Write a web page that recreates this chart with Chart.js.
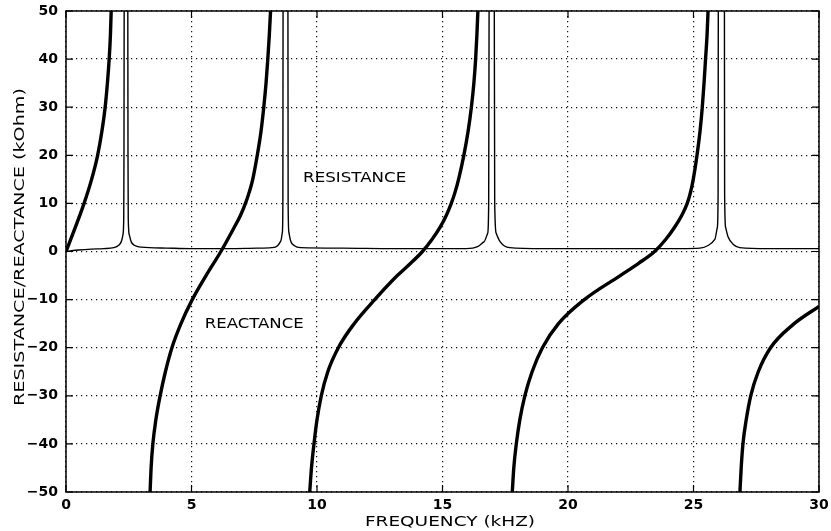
<!DOCTYPE html>
<html>
<head>
<meta charset="utf-8">
<script src="https://cdn.jsdelivr.net/npm/chart.js@4/dist/chart.umd.min.js"></script>
<style>
  html, body { margin: 0; padding: 0; background: #fff; }
  canvas { display: block; }
</style>
</head>
<body>
<canvas id="impChart" width="831" height="531"></canvas>
<script>
// Reactance (kOhm) vs frequency (kHz), one branch per pole interval
const reactFreq1 = [0, 0.37, 0.72, 1.02, 1.26, 1.43, 1.56, 1.65, 1.72, 1.77, 1.8];
const reactVal1  = [0, 5, 10, 15, 20, 25, 30, 35, 40, 45, 50];

const reactFreq2 = [3.35, 3.39, 3.46, 3.58, 3.75, 3.96, 4.22, 4.58, 5.03, 5.58, 6.17, 6.7, 6.95, 7.15, 7.31, 7.44, 7.62, 7.77, 7.88, 7.97, 8.04, 8.1, 8.15];
const reactVal2  = [-50, -45, -40, -35, -30, -25, -20, -15, -10, -5, 0, 5, 7.5, 10, 12.5, 15, 20, 25, 30, 35, 40, 45, 50];

const reactFreq3 = [9.71, 9.78, 9.88, 10.0, 10.17, 10.43, 10.85, 11.48, 12.3, 13.2, 13.72, 14.2, 14.58, 14.9, 15.15, 15.35, 15.51, 15.64, 15.85, 16.02, 16.15, 16.25, 16.32, 16.37, 16.41];
const reactVal3  = [-50, -45, -40, -35, -30, -25, -20, -15, -10, -5, -2.5, 0, 2.5, 5, 7.5, 10, 12.5, 15, 20, 25, 30, 35, 40, 45, 50];

const reactFreq4 = [17.78, 17.84, 17.94, 18.08, 18.28, 18.57, 18.98, 19.62, 20.65, 22.08, 22.8, 23.45, 23.89, 24.24, 24.53, 24.75, 24.89, 24.99, 25.14, 25.26, 25.35, 25.42, 25.48, 25.54, 25.58];
const reactVal4  = [-50, -45, -40, -35, -30, -25, -20, -15, -10, -5, -2.5, 0, 2.5, 5, 7.5, 10, 12.5, 15, 20, 25, 30, 35, 40, 45, 50];

const reactFreq5 = [26.85, 26.9, 26.97, 27.1, 27.28, 27.58, 28.07, 28.94, 30];
const reactVal5  = [-50, -45, -40, -35, -30, -25, -20, -15.3, -11.4];

// Resistance (kOhm): flat floor with four narrow resonance spikes (tops run off the plot)
const resFreq = [
  0, 0.5, 1.0, 1.5, 1.9, 2.1, 2.2, 2.27, 2.30, 2.31, 2.32, 2.39, 2.46, 2.47, 2.48, 2.52, 2.6, 2.72, 3.0,
  4, 5, 6.5, 7.6, 8.2, 8.43, 8.56, 8.62, 8.64, 8.65, 8.75, 8.84, 8.85, 8.88, 8.95, 9.1, 9.35,
  11, 13, 15, 15.94, 16.4, 16.65, 16.8, 16.84, 16.86, 16.96, 17.06, 17.08, 17.14, 17.3, 17.67,
  19, 21, 23, 24.5, 25.25, 25.6, 25.85, 25.95, 25.98, 25.99, 26.11, 26.23, 26.24, 26.28, 26.38, 26.6, 26.84,
  28, 30
];
const resVal = [
  0, 0.3, 0.5, 0.6, 0.8, 1.3, 2, 3.5, 7, 20, 60, 100, 60, 20, 7, 3.5, 2, 1.3, 0.9,
  0.7, 0.6, 0.6, 0.7, 0.8, 1.2, 2.2, 4, 10, 60, 100, 60, 10, 4, 2.2, 1.2, 0.8,
  0.7, 0.6, 0.6, 0.6, 1, 2, 3.8, 10, 60, 100, 60, 10, 3.8, 2, 0.8,
  0.6, 0.6, 0.6, 0.6, 0.7, 1.3, 2.5, 5, 12, 60, 100, 60, 12, 5, 3, 1.4, 0.8,
  0.6, 0.6
];

const xTicks = [0, 5, 10, 15, 20, 25, 30];
const yTicks = [-50, -40, -30, -20, -10, 0, 10, 20, 30, 40, 50];

function toPoints(xs, ys) {
  return xs.map((x, i) => ({ x: x, y: ys[i] }));
}

function reactanceSet(xs, ys) {
  return {
    data: toPoints(xs, ys),
    borderColor: '#000',
    borderWidth: 3.4,
    pointRadius: 0,
    cubicInterpolationMode: 'monotone',
    fill: false
  };
}

// draws text stretched along its baseline, the scanned lettering is wide
function stretchedText(ctx, text, x, y, font, sx, angle) {
  ctx.save();
  ctx.translate(x, y);
  if (angle) ctx.rotate(angle);
  ctx.scale(sx, 1);
  ctx.font = font;
  ctx.fillStyle = '#000';
  ctx.textAlign = 'center';
  ctx.textBaseline = 'middle';
  ctx.fillText(text, 0, 0);
  ctx.restore();
}

const framePlugin = {
  id: 'frame',
  afterDatasetsDraw(chart) {
    const { ctx, chartArea: a, scales } = chart;
    ctx.save();
    ctx.strokeStyle = '#000';
    ctx.lineWidth = 1.5;
    ctx.strokeRect(a.left, a.top, a.right - a.left, a.bottom - a.top);
    // short inward ticks on all four sides
    ctx.lineWidth = 1.2;
    const len = 7;
    ctx.beginPath();
    xTicks.forEach(v => {
      const px = scales.x.getPixelForValue(v);
      ctx.moveTo(px, a.bottom); ctx.lineTo(px, a.bottom - len);
      ctx.moveTo(px, a.top); ctx.lineTo(px, a.top + len);
    });
    yTicks.forEach(v => {
      const py = scales.y.getPixelForValue(v);
      ctx.moveTo(a.left, py); ctx.lineTo(a.left + len, py);
      ctx.moveTo(a.right, py); ctx.lineTo(a.right - len, py);
    });
    ctx.stroke();
    ctx.restore();
  },
  afterDraw(chart) {
    const { ctx, scales } = chart;
    const f = '14px "DejaVu Sans"';
    stretchedText(ctx, 'RESISTANCE', scales.x.getPixelForValue(11.5), scales.y.getPixelForValue(15.3), f, 1.19, 0);
    stretchedText(ctx, 'REACTANCE', scales.x.getPixelForValue(7.5), scales.y.getPixelForValue(-15.1), f, 1.18, 0);
    stretchedText(ctx, 'FREQUENCY (kHZ)', 450, 522, f, 1.32, 0);
    stretchedText(ctx, 'RESISTANCE/REACTANCE (kOhm)', 20, 247, f, 1.37, -Math.PI / 2);
  }
};

const ctx = document.getElementById('impChart').getContext('2d');

new Chart(ctx, {
  type: 'line',
  data: {
    datasets: [
      {
        data: toPoints(resFreq, resVal),
        borderColor: '#000',
        borderWidth: 1.4,
        pointRadius: 0,
        cubicInterpolationMode: 'monotone',
        fill: false
      },
      reactanceSet(reactFreq1, reactVal1),
      reactanceSet(reactFreq2, reactVal2),
      reactanceSet(reactFreq3, reactVal3),
      reactanceSet(reactFreq4, reactVal4),
      reactanceSet(reactFreq5, reactVal5)
    ]
  },
  options: {
    responsive: false,
    animation: false,
    layout: { padding: { top: 11, right: 12, left: 0, bottom: 0 } },
    plugins: {
      legend: { display: false },
      tooltip: { enabled: false }
    },
    scales: {
      x: {
        type: 'linear',
        min: 0,
        max: 30,
        afterBuildTicks: scale => { scale.ticks = xTicks.map(v => ({ value: v })); },
        afterFit: scale => {
          scale.height = 39;
          scale.paddingLeft = 0;
          scale.paddingRight = 0;
        },
        border: { display: false, dash: [1.2, 3.8] },
        grid: {
          color: '#111',
          lineWidth: 1.2,
          drawTicks: false
        },
        ticks: {
          padding: 5,
          color: '#000',
          maxRotation: 0,
          font: { family: '"DejaVu Sans"', size: 14, weight: 'bold' }
        }
      },
      y: {
        type: 'linear',
        min: -50,
        max: 50,
        afterBuildTicks: scale => { scale.ticks = yTicks.map(v => ({ value: v })); },
        afterFit: scale => {
          scale.width = 66;
          scale.paddingTop = 0;
          scale.paddingBottom = 0;
        },
        border: { display: false, dash: [1.2, 3.8] },
        grid: {
          color: '#111',
          lineWidth: 1.2,
          drawTicks: false
        },
        ticks: {
          padding: 8,
          color: '#000',
          font: { family: '"DejaVu Sans"', size: 14, weight: 'bold' },
          callback: v => v < 0 ? '\u2212' + Math.abs(v) : String(v)
        }
      }
    }
  },
  plugins: [framePlugin]
});
</script>
</body>
</html>
